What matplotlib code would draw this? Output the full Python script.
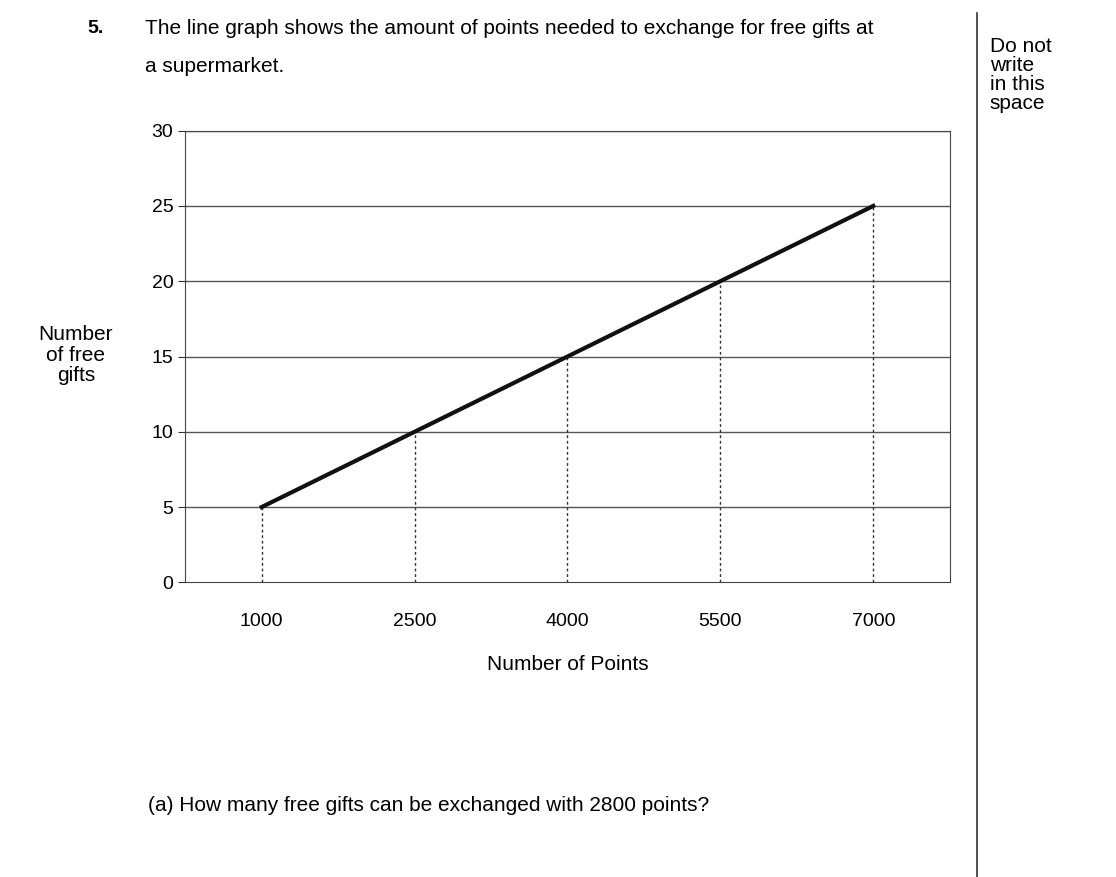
import matplotlib
matplotlib.use("Agg")
import matplotlib.pyplot as plt

points = ["1000", "2500", "4000", "5500", "7000"]
gifts = [5, 10, 15, 20, 25]
yticks = [0, 5, 10, 15, 20, 25, 30]

plt.rcParams['font.family'] = ['Liberation Sans', 'DejaVu Sans']
fig = plt.figure(figsize=(11.16, 8.77), dpi=100)
ax = fig.add_axes([0.166, 0.336, 0.685, 0.515])
x = list(range(len(points)))
for yv in yticks[1:]:
    ax.axhline(yv, color='#555555', lw=1.0, zorder=1)
ax.vlines(x, 0, gifts, colors='#333333', linestyles=(0, (2, 2)), lw=1.0, zorder=1)
ax.plot(x, gifts, color='#111111', lw=3, zorder=3)
ax.set_xlim(-0.5, 4.5)
ax.set_ylim(0, 30)
ax.set_yticks(yticks)
ax.set_xticks(x)
ax.set_xticklabels(points)
ax.tick_params(axis='y', labelsize=14, length=5, color='#333333')
ax.tick_params(axis='x', labelsize=14, length=0, pad=22)
for s in ax.spines.values():
    s.set_color('#444444')
ax.set_xlabel("Number of Points", fontsize=15, labelpad=18)
fig.text(0.068, 0.595, "Number\nof free\ngifts", fontsize=15, ha='center', va='center', linespacing=1.1)

fig.text(0.078, 0.968, "5.", fontsize=14, weight='bold', va='center')
fig.text(0.13, 0.968, "The line graph shows the amount of points needed to exchange for free gifts at",
         fontsize=15, va='center')
fig.text(0.13, 0.924, "a supermarket.", fontsize=15, va='center')
fig.text(0.887, 0.915, "Do not\nwrite\nin this\nspace", fontsize=15, va='center', linespacing=1.0)
fig.add_artist(plt.Line2D([0.875, 0.875], [0.0, 0.985], color='#333333', lw=1.2))
fig.text(0.133, 0.082, "(a) How many free gifts can be exchanged with 2800 points?", fontsize=15, va='center')
fig.savefig("out.png", dpi=100, facecolor='white')
